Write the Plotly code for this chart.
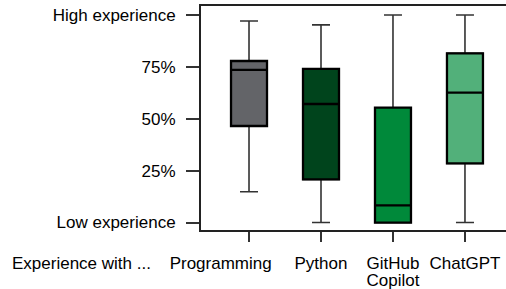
import plotly.graph_objects as go

categories = ["Programming", "Python", "GitHub<br>Copilot", "ChatGPT"]
tick_labels = ["Programming" + "\u00a0" * 12, "Python", "GitHub<br>Copilot", "ChatGPT"]
lower_fence = [14.8, 0.0, 0.0, 0.0]
q1 = [46.5, 20.8, 0.0, 28.5]
median = [73.5, 57.1, 8.3, 62.6]
q3 = [77.8, 74.0, 55.3, 81.5]
upper_fence = [97.1, 95.2, 100.0, 100.0]
colors = ["#636468", "#00441c", "#00893a", "#52b07a"]

y_tickvals = [0, 25, 50, 75, 100]
y_ticktext = ["Low experience", "25%", "50%", "75%", "High experience"]
x_title = "Experience with ..."

FONT = "Liberation Sans, Arial, sans-serif"

fig = go.Figure()
# whiskers (thin, dark grey)
for i, cat in enumerate(categories):
    fig.add_trace(go.Box(
        x=[cat], q1=[q1[i]], median=[median[i]], q3=[q3[i]],
        lowerfence=[lower_fence[i]], upperfence=[upper_fence[i]],
        fillcolor=colors[i], line=dict(color="#333333", width=1.6),
        width=0.5, whiskerwidth=0.5, boxpoints=False, showlegend=False,
        hoverinfo="skip",
    ))
# boxes and medians (thicker, black)
for i, cat in enumerate(categories):
    fig.add_trace(go.Box(
        x=[cat], q1=[q1[i]], median=[median[i]], q3=[q3[i]],
        lowerfence=[q1[i]], upperfence=[q3[i]],
        fillcolor=colors[i], line=dict(color="#000000", width=2.3),
        width=0.5, whiskerwidth=0, boxpoints=False, showlegend=False,
        hoverinfo="skip",
    ))

fig.update_layout(
    width=506, height=289, autosize=False,
    margin=dict(l=201, r=0, t=6, b=59),
    paper_bgcolor="white", plot_bgcolor="white",
    font=dict(family=FONT, size=17, color="black"),
    boxmode="overlay",
    showlegend=False,
)
fig.update_xaxes(
    type="category", categoryorder="array", categoryarray=categories,
    tickvals=categories, ticktext=tick_labels,
    range=[-0.667, 3.57], automargin=False, tickangle=0,
    showline=True, linecolor="#222222", linewidth=2, mirror=True,
    ticks="outside", ticklen=10, tickwidth=2, tickcolor="#333333",
    showgrid=False, zeroline=False, ticklabelstandoff=7,
    tickfont=dict(family=FONT, size=17, color="black"),
)
fig.update_yaxes(
    range=[-3.6, 104.3], automargin=False,
    tickvals=y_tickvals, ticktext=y_ticktext,
    showline=True, linecolor="#222222", linewidth=2,
    ticks="outside", ticklen=13, tickwidth=2, tickcolor="#333333",
    showgrid=False, zeroline=False, ticklabelstandoff=7,
    tickfont=dict(family=FONT, size=17, color="black"),
)
fig.add_annotation(
    text=x_title, xref="paper", yref="paper",
    x=(10 - 201) / 305, y=-(263 - 230) / 224,
    xanchor="left", yanchor="middle", showarrow=False,
    font=dict(family=FONT, size=17, color="black"),
)

post = """
document.body.style.margin = '0';
document.querySelectorAll('.xtick text tspan.line').forEach(function(t){
  var d = parseFloat(t.getAttribute('dy'));
  if (d > 0) { t.setAttribute('dy', '0.95em'); }
});
"""
fig.write_html("out.html", post_script=post, config={"displayModeBar": False})
